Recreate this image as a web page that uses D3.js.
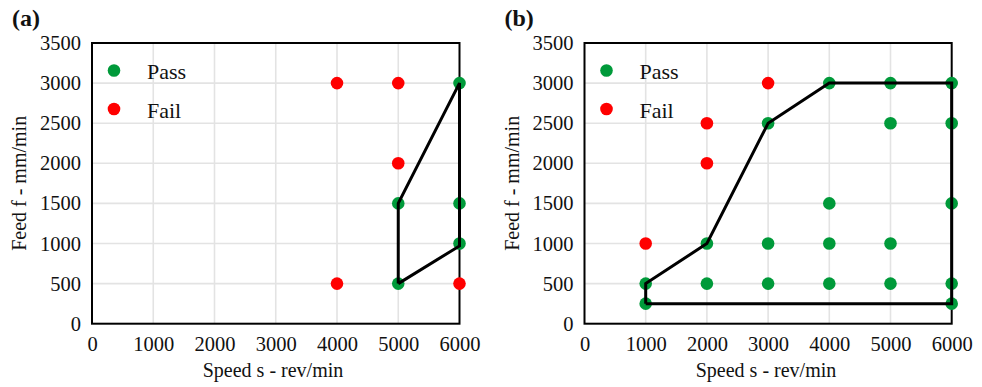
<!DOCTYPE html>
<html>
<head>
<meta charset="utf-8">
<script src="https://cdn.jsdelivr.net/npm/d3@7"></script>
<style>
  body { margin: 0; background: #fff; }
  svg { display: block; }
  text { font-family: "Liberation Serif", "Times New Roman", serif; fill: #111; }
</style>
</head>
<body>
<svg id="chart" width="982" height="387"></svg>
<script>
// Tick values shared by both panels
const speedTicks = [0, 1000, 2000, 3000, 4000, 5000, 6000];
const feedTicks = [0, 500, 1000, 1500, 2000, 2500, 3000, 3500];

// Panel (a): test points and boundary
const passA = [[5000, 1500], [5000, 500], [6000, 3000], [6000, 1500], [6000, 1000]];
const failA = [[4000, 3000], [5000, 3000], [5000, 2000], [4000, 500], [6000, 500]];
const boundaryA = [[5000, 500], [5000, 1500], [6000, 3000], [6000, 970], [5000, 500]];

// Panel (b): test points and boundary
const passB = [
  [1000, 250], [1000, 500],
  [2000, 1000], [2000, 500],
  [3000, 2500], [3000, 1000], [3000, 500],
  [4000, 3000], [4000, 1500], [4000, 1000], [4000, 500],
  [5000, 3000], [5000, 2500], [5000, 1000], [5000, 500],
  [6000, 3000], [6000, 2500], [6000, 1500], [6000, 500], [6000, 250]
];
const failB = [[1000, 1000], [2000, 2500], [2000, 2000], [3000, 3000]];
const boundaryB = [[1000, 250], [1000, 500], [2000, 1000], [3000, 2500], [4000, 3000],
                   [6000, 3000], [6000, 250], [1000, 250]];

const legendLabels = ["Pass", "Fail"];
const passColor = "#009a3a";
const failColor = "#ff0000";
const serif = "Liberation Serif, Times New Roman, serif";

const svg = d3.select("#chart");

function drawPanel(opts) {
  const { left, right, top, bottom, tag, pass, fail, boundary, titleX } = opts;
  const x = d3.scaleLinear().domain([0, 6000]).range([left, right]);
  const y = d3.scaleLinear().domain([0, 3500]).range([bottom, top]);
  const g = svg.append("g");

  // panel tag
  g.append("text").attr("x", left - 80).attr("y", 26)
    .attr("font-size", 24).attr("font-weight", "bold").text(tag);

  // grid
  g.append("g").selectAll("line.v").data(speedTicks.slice(1, -1)).join("line")
    .attr("x1", d => x(d)).attr("x2", d => x(d)).attr("y1", top).attr("y2", bottom)
    .attr("stroke", "#e3e3e3").attr("stroke-width", 1.6);
  g.append("g").selectAll("line.h").data(feedTicks.slice(1, -1)).join("line")
    .attr("x1", left).attr("x2", right).attr("y1", d => y(d)).attr("y2", d => y(d))
    .attr("stroke", "#e3e3e3").attr("stroke-width", 1.6);

  // axes with tick labels
  const xAxis = d3.axisBottom(x).tickValues(speedTicks).tickSize(0).tickPadding(13)
    .tickFormat(d3.format("d"));
  const yAxis = d3.axisLeft(y).tickValues(feedTicks).tickSize(0).tickPadding(11)
    .tickFormat(d3.format("d"));
  const gx = g.append("g").attr("transform", `translate(0,${bottom})`).call(xAxis);
  const gy = g.append("g").attr("transform", `translate(${left},0)`).call(yAxis);
  [gx, gy].forEach(a => {
    a.attr("font-family", serif).attr("font-size", 20.5);
    a.select(".domain").remove();
    a.selectAll("text").attr("fill", "#111");
  });

  // frame
  g.append("rect").attr("x", left).attr("y", top)
    .attr("width", right - left).attr("height", bottom - top)
    .attr("fill", "none").attr("stroke", "#000").attr("stroke-width", 2);

  // points
  g.append("g").selectAll("circle").data(pass).join("circle")
    .attr("cx", d => x(d[0])).attr("cy", d => y(d[1])).attr("r", 6.3).attr("fill", passColor);
  g.append("g").selectAll("circle").data(fail).join("circle")
    .attr("cx", d => x(d[0])).attr("cy", d => y(d[1])).attr("r", 6.3).attr("fill", failColor);

  // boundary line
  const line = d3.line().x(d => x(d[0])).y(d => y(d[1]));
  g.append("path").attr("d", line(boundary)).attr("fill", "none")
    .attr("stroke", "#000").attr("stroke-width", 3).attr("stroke-linejoin", "miter");

  // legend
  const lg = g.append("g");
  [passColor, failColor].forEach((c, i) => {
    lg.append("circle").attr("cx", left + 22).attr("cy", 70.5 + i * 38.5).attr("r", 6.3).attr("fill", c);
    lg.append("text").attr("x", left + 55).attr("y", 79 + i * 38.5)
      .attr("font-size", 22).text(legendLabels[i]);
  });

  // axis titles
  g.append("text").attr("x", titleX).attr("y", 377).attr("text-anchor", "middle")
    .attr("font-size", 20).text("Speed s - rev/min");
  g.append("text")
    .attr("transform", `translate(${left - 66},${(top + bottom) / 2}) rotate(-90)`)
    .attr("text-anchor", "middle").attr("font-size", 20).text("Feed f - mm/min");
}

drawPanel({ left: 92, right: 459.5, top: 43, bottom: 323.7, tag: "(a)",
  pass: passA, fail: failA, boundary: boundaryA, titleX: 273 });
drawPanel({ left: 584.5, right: 951.7, top: 43, bottom: 323.7, tag: "(b)",
  pass: passB, fail: failB, boundary: boundaryB, titleX: 766 });
</script>
</body>
</html>
